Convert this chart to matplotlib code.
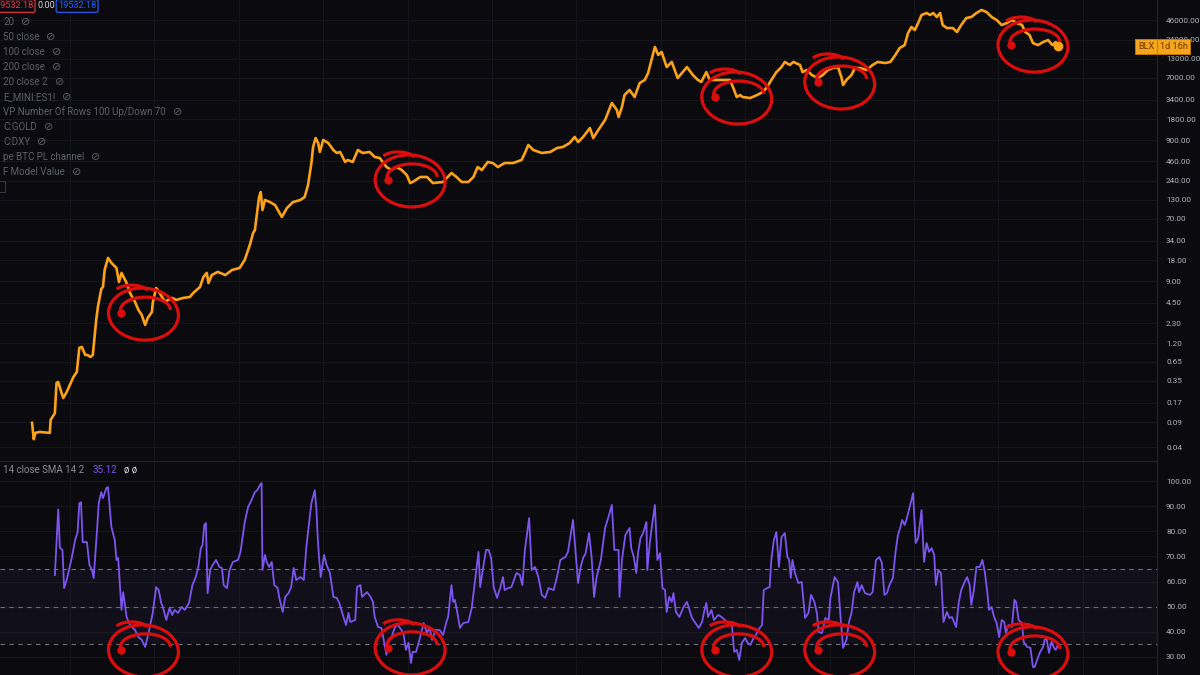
import numpy as np
import matplotlib.pyplot as plt
from matplotlib.patches import Ellipse, Arc
from matplotlib.transforms import ScaledTranslation, blended_transform_factory
from matplotlib.ticker import FixedLocator, FuncFormatter, NullLocator

plt.rcParams['font.family'] = ['Roboto', 'DejaVu Sans']

# ---------------------------------------------------------------- data
# BLX (bitcoin) weekly close, decimal years
price_years = [
    2010.55, 2010.57, 2010.59, 2010.64, 2010.76, 2010.77, 2010.82, 2010.84, 2010.86, 2010.90,
    2010.92, 2010.96, 2011.04, 2011.08, 2011.11, 2011.14, 2011.18, 2011.21, 2011.24, 2011.27,
    2011.31, 2011.33, 2011.37, 2011.39, 2011.41, 2011.45, 2011.49, 2011.55, 2011.58, 2011.61,
    2011.67, 2011.71, 2011.77, 2011.81, 2011.85, 2011.89, 2011.92, 2011.97, 2011.98, 2012.02,
    2012.04, 2012.09, 2012.13, 2012.16, 2012.21, 2012.26, 2012.34, 2012.42, 2012.46, 2012.54,
    2012.58, 2012.62, 2012.64, 2012.68, 2012.75, 2012.84, 2012.92, 2013.01, 2013.07, 2013.13,
    2013.17, 2013.19, 2013.22, 2013.24, 2013.26, 2013.28, 2013.31, 2013.37, 2013.43, 2013.51,
    2013.57, 2013.64, 2013.73, 2013.78, 2013.82, 2013.86, 2013.88, 2013.91, 2013.94, 2013.96,
    2014.00, 2014.06, 2014.12, 2014.16, 2014.20, 2014.26, 2014.29, 2014.35, 2014.41, 2014.47,
    2014.55, 2014.61, 2014.67, 2014.75, 2014.81, 2014.87, 2014.93, 2014.99, 2015.03, 2015.06,
    2015.15, 2015.23, 2015.30, 2015.42, 2015.52, 2015.58, 2015.64, 2015.72, 2015.78, 2015.83,
    2015.88, 2015.95, 2016.01, 2016.07, 2016.15, 2016.25, 2016.35, 2016.39, 2016.43, 2016.49,
    2016.59, 2016.69, 2016.77, 2016.84, 2016.92, 2016.98, 2017.02, 2017.08, 2017.16, 2017.20,
    2017.26, 2017.34, 2017.42, 2017.48, 2017.50, 2017.54, 2017.57, 2017.63, 2017.69, 2017.75,
    2017.81, 2017.85, 2017.89, 2017.93, 2017.97, 2018.01, 2018.07, 2018.13, 2018.20, 2018.31,
    2018.38, 2018.44, 2018.48, 2018.54, 2018.58, 2018.70, 2018.82, 2018.86, 2018.90, 2018.94,
    2018.97, 2019.06, 2019.14, 2019.21, 2019.26, 2019.31, 2019.37, 2019.43, 2019.47, 2019.53,
    2019.57, 2019.65, 2019.68, 2019.73, 2019.79, 2019.86, 2019.92, 2019.98, 2020.04, 2020.10,
    2020.14, 2020.16, 2020.20, 2020.26, 2020.30, 2020.36, 2020.44, 2020.51, 2020.57, 2020.66,
    2020.72, 2020.78, 2020.83, 2020.89, 2020.93, 2020.97, 2021.01, 2021.05, 2021.09, 2021.15,
    2021.19, 2021.23, 2021.27, 2021.31, 2021.34, 2021.39, 2021.46, 2021.51, 2021.56, 2021.62,
    2021.68, 2021.74, 2021.80, 2021.86, 2021.92, 2021.98, 2022.04, 2022.10, 2022.16, 2022.22,
    2022.28, 2022.32, 2022.37, 2022.41, 2022.47, 2022.53, 2022.59, 2022.64, 2022.68, 2022.71]
price_vals = [
    0.089, 0.052, 0.064, 0.066, 0.064, 0.098, 0.122, 0.327, 0.337, 0.235,
    0.200, 0.243, 0.397, 0.468, 1.03, 1.06, 0.815, 0.815, 0.763, 0.815,
    2.56, 3.91, 7.03, 7.52, 13.1, 19.4, 16.5, 14.0, 8.85, 11.9,
    8.57, 6.18, 4.61, 3.55, 3.01, 2.17, 2.73, 3.32, 4.46, 7.27,
    6.81, 5.42, 4.61, 4.92, 5.25, 4.92, 5.25, 5.42, 6.18, 7.52,
    10.4, 11.9, 8.57, 11.1, 12.3, 11.1, 13.1, 14.0, 18.2, 29.6,
    44, 48, 93, 142, 167, 93, 129, 120, 109, 74,
    99, 120, 129, 142, 210, 431, 728, 975, 828, 618,
    914, 828, 659, 598, 618, 446, 475, 446, 659, 598,
    618, 525, 508, 378, 343, 378, 343, 291, 224, 232,
    273, 273, 224, 232, 311, 273, 232, 232, 273, 378,
    343, 446, 431, 378, 431, 431, 475, 598, 776, 659,
    598, 618, 703, 728, 828, 1010, 855, 1010, 1350, 975,
    1270, 1760, 3060, 2430, 1940, 2690, 3970, 4680, 3720, 5880,
    6490, 8150, 12500, 19100, 14700, 16200, 9900, 11700, 6920, 9900,
    7640, 6490, 6080, 8400, 6490, 6490, 6490, 4990, 3720, 3970,
    3720, 3600, 3970, 4380, 5160, 6490, 8400, 9900, 11700, 10600,
    11700, 10600, 8400, 9000, 7640, 6920, 7640, 9000, 9600, 9900,
    7140, 5510, 6490, 7640, 9600, 9600, 9000, 10600, 11700, 11300,
    11700, 14700, 18400, 20300, 30100, 36600, 33200, 41700, 54200, 57800,
    54200, 57800, 50800, 57800, 39100, 35400, 35400, 31100, 39100, 49100,
    50800, 57800, 63800, 59800, 50800, 46000, 39100, 41700, 46000, 41700,
    39100, 31100, 28200, 21700, 20300, 22400, 23900, 20300, 22400, 19532.18]

# RSI 14 smoothed
rsi_years = [
    2010.82, 2010.86, 2010.88, 2010.91, 2010.93, 2010.96, 2011.02, 2011.06, 2011.09, 2011.11,
    2011.13, 2011.15, 2011.20, 2011.23, 2011.26, 2011.28, 2011.32, 2011.34, 2011.37, 2011.39,
    2011.43, 2011.45, 2011.49, 2011.53, 2011.55, 2011.57, 2011.61, 2011.63, 2011.67, 2011.71,
    2011.77, 2011.81, 2011.85, 2011.89, 2011.93, 2011.98, 2012.02, 2012.05, 2012.08, 2012.10,
    2012.14, 2012.18, 2012.21, 2012.24, 2012.28, 2012.32, 2012.36, 2012.41, 2012.45, 2012.49,
    2012.52, 2012.55, 2012.57, 2012.59, 2012.61, 2012.63, 2012.66, 2012.69, 2012.73, 2012.77,
    2012.80, 2012.82, 2012.86, 2012.89, 2012.93, 2012.99, 2013.02, 2013.07, 2013.11, 2013.15,
    2013.19, 2013.22, 2013.25, 2013.27, 2013.28, 2013.31, 2013.33, 2013.36, 2013.39, 2013.42,
    2013.46, 2013.48, 2013.52, 2013.55, 2013.59, 2013.62, 2013.65, 2013.68, 2013.73, 2013.77,
    2013.80, 2013.82, 2013.86, 2013.90, 2013.92, 2013.93, 2013.95, 2013.97, 2014.01, 2014.04,
    2014.08, 2014.12, 2014.16, 2014.19, 2014.24, 2014.27, 2014.30, 2014.32, 2014.38, 2014.40,
    2014.44, 2014.46, 2014.52, 2014.56, 2014.59, 2014.61, 2014.65, 2014.69, 2014.71, 2014.75,
    2014.77, 2014.81, 2014.85, 2014.89, 2014.91, 2014.95, 2014.98, 2015.01, 2015.04, 2015.06,
    2015.10, 2015.14, 2015.19, 2015.23, 2015.26, 2015.29, 2015.33, 2015.38, 2015.42, 2015.46,
    2015.48, 2015.52, 2015.54, 2015.56, 2015.59, 2015.62, 2015.66, 2015.72, 2015.76, 2015.80,
    2015.84, 2015.86, 2015.89, 2015.93, 2015.96, 2015.99, 2016.02, 2016.06, 2016.10, 2016.13,
    2016.15, 2016.19, 2016.23, 2016.29, 2016.33, 2016.36, 2016.39, 2016.44, 2016.47, 2016.51,
    2016.55, 2016.59, 2016.63, 2016.67, 2016.73, 2016.77, 2016.81, 2016.87, 2016.90, 2016.96,
    2016.99, 2017.02, 2017.05, 2017.08, 2017.11, 2017.15, 2017.18, 2017.21, 2017.24, 2017.29,
    2017.34, 2017.38, 2017.42, 2017.45, 2017.50, 2017.51, 2017.54, 2017.58, 2017.63, 2017.65,
    2017.68, 2017.71, 2017.73, 2017.76, 2017.79, 2017.83, 2017.84, 2017.87, 2017.90, 2017.93,
    2017.96, 2017.99, 2018.02, 2018.05, 2018.07, 2018.10, 2018.13, 2018.15, 2018.18, 2018.22,
    2018.27, 2018.31, 2018.34, 2018.37, 2018.41, 2018.45, 2018.49, 2018.51, 2018.54, 2018.56,
    2018.60, 2018.63, 2018.68, 2018.72, 2018.76, 2018.80, 2018.84, 2018.87, 2018.90, 2018.93,
    2018.96, 2019.00, 2019.03, 2019.06, 2019.10, 2019.14, 2019.17, 2019.20, 2019.22, 2019.26,
    2019.29, 2019.31, 2019.34, 2019.37, 2019.40, 2019.43, 2019.47, 2019.50, 2019.52, 2019.54,
    2019.56, 2019.59, 2019.63, 2019.67, 2019.71, 2019.75, 2019.78, 2019.82, 2019.85, 2019.87,
    2019.91, 2019.95, 2019.99, 2020.01, 2020.06, 2020.10, 2020.13, 2020.16, 2020.20, 2020.23,
    2020.26, 2020.29, 2020.33, 2020.35, 2020.38, 2020.42, 2020.48, 2020.51, 2020.55, 2020.59,
    2020.62, 2020.65, 2020.68, 2020.71, 2020.75, 2020.78, 2020.81, 2020.84, 2020.86, 2020.89,
    2020.91, 2020.95, 2020.99, 2021.02, 2021.05, 2021.09, 2021.12, 2021.15, 2021.18, 2021.21,
    2021.24, 2021.26, 2021.29, 2021.32, 2021.35, 2021.39, 2021.42, 2021.45, 2021.50, 2021.53,
    2021.56, 2021.60, 2021.63, 2021.66, 2021.68, 2021.71, 2021.74, 2021.78, 2021.81, 2021.84,
    2021.87, 2021.89, 2021.92, 2021.95, 2021.98, 2022.01, 2022.04, 2022.07, 2022.09, 2022.12,
    2022.16, 2022.19, 2022.21, 2022.24, 2022.28, 2022.30, 2022.34, 2022.38, 2022.41, 2022.43,
    2022.46, 2022.49, 2022.53, 2022.55, 2022.57, 2022.60, 2022.63, 2022.66, 2022.68, 2022.71]
rsi_vals = [
    62.6, 88.7, 73.3, 72.6, 57.4, 60.6, 69.4, 76.5, 79.7, 91.2,
    91.6, 75.7, 75.7, 66.6, 64.6, 61.4, 80.5, 91.2, 95.6, 93.2,
    97.2, 97.6, 81.7, 76.5, 68.6, 69.4, 48.7, 55.8, 45.9, 42.7,
    40.7, 37.9, 36.8, 34.0, 39.5, 47.5, 57.8, 56.6, 51.5, 49.9,
    44.7, 49.5, 46.7, 48.7, 47.5, 49.9, 48.7, 51.5, 58.6, 61.8,
    65.8, 73.3, 74.5, 82.5, 83.3, 55.4, 64.6, 66.6, 68.6, 65.8,
    65.4, 58.6, 57.4, 64.6, 67.8, 68.6, 71.8, 83.7, 89.7, 92.4,
    95.6, 96.4, 98.4, 99.2, 64.6, 70.6, 67.8, 65.8, 67.8, 58.6,
    57.4, 53.5, 47.9, 53.9, 55.4, 57.8, 65.4, 60.6, 61.8, 60.6,
    73.7, 79.7, 91.2, 96.4, 88.5, 80.5, 69.8, 61.8, 70.6, 66.6,
    63.4, 53.9, 53.5, 51.5, 45.9, 42.7, 47.5, 43.9, 44.7, 57.8,
    58.6, 53.9, 55.8, 53.9, 51.9, 45.9, 41.9, 41.5, 37.9, 30.8,
    35.6, 37.9, 41.9, 42.7, 41.5, 39.5, 32.8, 35.6, 27.6, 32.0,
    32.0, 36.8, 43.5, 39.5, 41.9, 36.8, 40.7, 40.7, 38.7, 43.9,
    45.9, 58.6, 51.9, 52.7, 47.5, 41.5, 43.5, 43.9, 49.5, 60.6,
    71.8, 57.8, 64.6, 72.6, 72.6, 69.4, 57.8, 53.5, 57.8, 61.8,
    56.6, 57.4, 57.8, 63.4, 62.6, 58.6, 72.6, 85.3, 64.6, 65.8,
    61.8, 54.7, 53.5, 57.4, 56.6, 61.8, 68.6, 69.8, 71.8, 84.5,
    71.8, 59.4, 65.8, 69.4, 71.3, 79.3, 69.8, 53.9, 61.8, 68.6,
    81.3, 85.7, 90.5, 72.6, 72.6, 53.9, 68.6, 78.5, 81.3, 73.3,
    69.8, 63.4, 71.3, 77.3, 79.3, 83.7, 64.6, 75.3, 83.3, 90.5,
    68.6, 71.3, 57.4, 56.6, 47.9, 53.9, 51.9, 55.4, 47.9, 45.9,
    49.9, 51.9, 48.7, 45.5, 43.5, 41.5, 43.9, 47.5, 51.5, 45.9,
    48.7, 44.7, 46.7, 45.9, 44.7, 43.5, 43.5, 32.0, 32.8, 28.8,
    35.6, 37.5, 35.6, 34.8, 37.5, 39.5, 41.5, 42.7, 56.6, 57.4,
    57.8, 68.6, 76.5, 79.7, 65.8, 77.7, 79.3, 69.8, 68.6, 61.4,
    68.6, 63.4, 59.4, 59.8, 45.5, 47.5, 54.7, 51.9, 47.5, 39.9,
    39.5, 45.5, 44.7, 53.5, 61.8, 59.8, 45.9, 33.6, 36.8, 43.9,
    47.5, 55.8, 59.8, 55.8, 58.6, 55.4, 54.7, 55.8, 68.6, 69.8,
    67.4, 54.7, 55.4, 58.6, 61.4, 71.3, 78.5, 81.7, 84.5, 82.5,
    84.5, 89.7, 95.2, 75.3, 77.3, 88.5, 67.8, 75.3, 71.8, 73.3,
    70.6, 58.6, 64.6, 63.4, 43.9, 47.9, 45.5, 45.9, 41.9, 51.5,
    56.6, 59.8, 61.8, 58.6, 50.7, 56.6, 65.8, 65.8, 68.6, 63.8,
    55.4, 48.7, 49.9, 45.9, 43.5, 37.9, 44.7, 43.9, 39.5, 42.7,
    41.9, 52.7, 51.9, 44.7, 43.5, 36.0, 34.0, 33.6, 26.0, 26.0,
    28.8, 31.6, 34.0, 36.8, 37.5, 31.6, 36.0, 33.6, 32.8, 35.12]

price_ticks = [0.04, 0.09, 0.17, 0.35, 0.65, 1.2, 2.3, 4.5, 9, 18, 34, 70, 130, 240,
               460, 900, 1800, 3400, 7000, 13000, 24000, 46000, 90000]
rsi_ticks = [30, 40, 50, 60, 70, 80, 90, 100]
rsi_levels = [35, 50, 65]

# hand drawn red circles (bear market bottoms)
circle_years = [2011.87, 2015.03, 2018.90, 2020.12, 2022.41]
circle_prices = [3.2, 248, 3720, 6080, 20300]
circle_rsi = [32.8, 33.6, 32.8, 32.8, 32.0]

legend_items = ["20", "50 close", "100 close", "200 close", "20 close 2", "E_MINI:ES1!",
                "VP Number Of Rows 100 Up/Down 70", "C:GOLD", "C:DXY",
                "pe BTC PL channel", "F Model Value"]

# ---------------------------------------------------------------- style
BG = "#0b0b0f"
GRID = "#15161b"
ORANGE = "#fca218"
PURPLE = "#7c55f0"
RED = "#dc0d0d"
TXT = "#b2b5be"
DIM = "#5d5f68"

fig = plt.figure(figsize=(12, 6.75), dpi=100, facecolor=BG)
W, H = 1200.0, 675.0
ax = fig.add_axes([0, 1 - 460 / H, 1157 / W, 460 / H], facecolor=BG)
ax2 = fig.add_axes([0, 0, 1157 / W, 1 - 462 / H], facecolor=BG)

for a in (ax, ax2):
    for s in a.spines.values():
        s.set_visible(False)
    a.spines["right"].set_visible(True)
    a.spines["right"].set_color("#24252b")
    a.set_xlim(2010.17, 2023.88)
    a.xaxis.set_major_locator(FixedLocator(np.arange(2011, 2024)))
    a.tick_params(axis="x", bottom=False, labelbottom=False)
    a.tick_params(axis="y", left=False, labelleft=False, right=False, labelright=True,
                  labelsize=5.9, labelcolor=TXT, pad=3)
    a.grid(True, color=GRID, lw=0.8)
    a.set_axisbelow(True)

# price panel
ax.set_yscale("log")
ax.set_ylim(0.0264, 88500)
ax.yaxis.set_major_locator(FixedLocator(price_ticks))
ax.yaxis.set_minor_locator(NullLocator())
ax.yaxis.set_major_formatter(FuncFormatter(lambda v, p: f"{v:.2f}"))
ax.plot(price_years, price_vals, color=ORANGE, lw=1.9, solid_joinstyle="round", zorder=3)
ax.plot(price_years[-1], price_vals[-1], "o", color=ORANGE, ms=6, zorder=4)

# last price label
bt = blended_transform_factory(ax.transAxes, ax.transData)
ax.annotate("BLX", xy=(1, price_vals[-1]), xycoords=bt, xytext=(-2, 0), textcoords="offset points",
            ha="right", va="center", fontsize=6.6, color="#6b3a00", annotation_clip=False, zorder=8,
            bbox=dict(boxstyle="square,pad=0.3", fc="#f5a41c", ec="#c77d00", lw=0.6))
ax.annotate("1d 16h", xy=(1, price_vals[-1]), xycoords=bt, xytext=(2, 0), textcoords="offset points",
            ha="left", va="center", fontsize=6.6, color="#6b3a00", annotation_clip=False, zorder=8,
            bbox=dict(boxstyle="square,pad=0.3", fc="#f5a41c", ec="#c77d00", lw=0.6))

# RSI panel
ax2.set_ylim(22.8, 107.6)
ax2.yaxis.set_major_locator(FixedLocator(rsi_ticks))
ax2.yaxis.set_major_formatter(FuncFormatter(lambda v, p: f"{v:.2f}"))
ax2.axhspan(rsi_levels[0], rsi_levels[-1], color="#7e57c2", alpha=0.06, lw=0)
for lev in rsi_levels:
    ax2.axhline(lev, color="#6d6f78", lw=0.8, ls=(0, (4, 4)))
ax2.plot(rsi_years, rsi_vals, color=PURPLE, lw=1.3, zorder=3)

fig.add_artist(plt.Line2D([0, 1157 / W], [1 - 461 / H] * 2, color="#1f2026", lw=1))


def scribble(a, x, y):
    tr = fig.dpi_scale_trans + ScaledTranslation(x, y, a.transData)
    kw = dict(ec=RED, lw=2.3, transform=tr, clip_on=False, zorder=6)
    a.add_patch(Ellipse((0.0, -0.01), 0.70, 0.52, angle=-4, fill=False, **kw))
    a.add_patch(Arc((0.02, 0.03), 0.50, 0.26, theta1=0, theta2=195, **kw))
    a.add_patch(Arc((-0.12, 0.20), 0.34, 0.16, theta1=10, theta2=165, **kw))
    bx = 0.02 + 0.25 * np.cos(np.radians(195))
    by = 0.03 + 0.13 * np.sin(np.radians(195))
    a.plot([bx], [by], "o", color=RED, ms=5, transform=tr, clip_on=False, zorder=6)


for yr, pr, rv in zip(circle_years, circle_prices, circle_rsi):
    scribble(ax, yr, pr)
    scribble(ax2, yr, rv)

# ---------------------------------------------------------------- header texts
fig.text(-5 / W, 1 - 6 / H, "19532.18", color="#f23645", fontsize=6.6, va="center", ha="left",
         bbox=dict(boxstyle="round,pad=0.2", fc=BG, ec="#f23645", lw=0.8))
fig.text(38 / W, 1 - 6 / H, "0.00", color="#d1d4dc", fontsize=6.6, va="center", ha="left")
fig.text(58 / W, 1 - 6 / H, "19532.18", color="#2962ff", fontsize=6.6, va="center", ha="left",
         bbox=dict(boxstyle="round,pad=0.2", fc=BG, ec="#2962ff", lw=0.8))

for i, name in enumerate(legend_items):
    t = fig.text(3 / W, 1 - (22 + 15 * i) / H, name, color=DIM, fontsize=7, va="center", ha="left")
    ax.annotate("⊘", xy=(1, 0.5), xycoords=t, xytext=(5, 0), textcoords="offset points",
                color=DIM, fontsize=8, va="center", ha="left", annotation_clip=False)

fig.text(0 / W, 1 - 187 / H, " ", fontsize=6, va="center",
         bbox=dict(boxstyle="square,pad=0.3", fc=BG, ec="#3a3b42", lw=0.7))

t = fig.text(3 / W, 1 - 470 / H, "14 close SMA 14 2", color="#8a8c94", fontsize=7, va="center")
t2 = ax2.annotate(f"{rsi_vals[-1]:.2f}", xy=(1, 0.5), xycoords=t, xytext=(6, 0),
                  textcoords="offset points", color=PURPLE, fontsize=7, va="center",
                  annotation_clip=False)
ax2.annotate("ø ø", xy=(1, 0.5), xycoords=t2, xytext=(5, 0), textcoords="offset points",
             color="#d1d4dc", fontsize=7, va="center", annotation_clip=False)

fig.savefig("out.png", dpi=100, facecolor=BG)
